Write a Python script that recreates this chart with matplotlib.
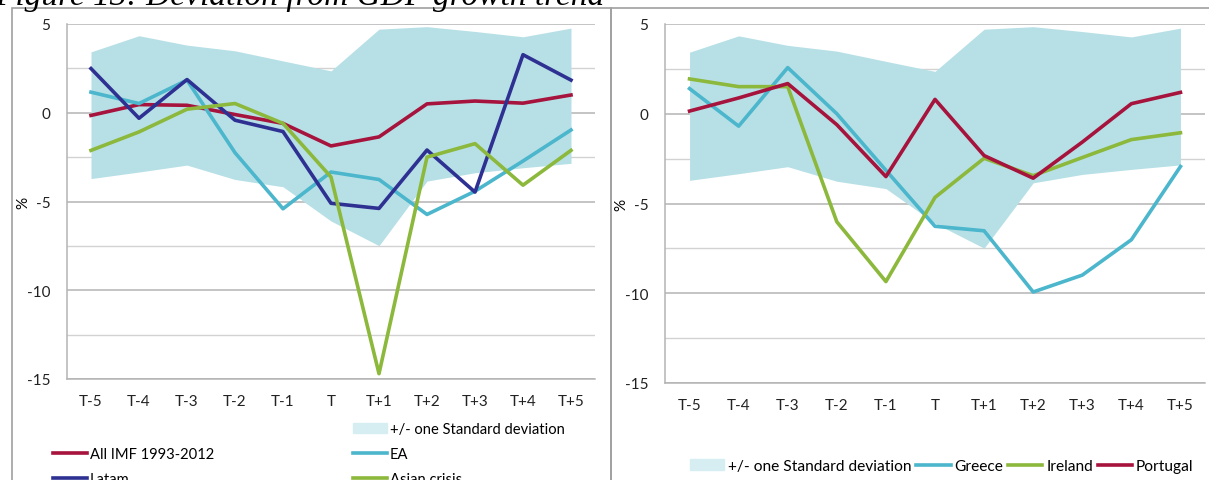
import matplotlib.pyplot as plt
from matplotlib.patches import Patch, Rectangle
from matplotlib.lines import Line2D

plt.rcParams['font.family'] = ['Lato', 'DejaVu Sans']
plt.rcParams['axes.unicode_minus'] = False

periods = ["T-5", "T-4", "T-3", "T-2", "T-1", "T", "T+1", "T+2", "T+3", "T+4", "T+5"]

# +/- one standard deviation band (same in both panels)
band_upper = [3.43, 4.34, 3.81, 3.49, 2.92, 2.36, 4.71, 4.85, 4.58, 4.28, 4.77]
band_lower = [-3.71, -3.34, -2.95, -3.76, -4.17, -6.1, -7.49, -3.85, -3.38, -3.1, -2.85]

# left panel
all_imf = [-0.15, 0.46, 0.42, -0.1, -0.6, -1.87, -1.36, 0.5, 0.66, 0.54, 1.0]
ea = [1.16, 0.52, 1.84, -2.25, -5.41, -3.34, -3.76, -5.73, -4.42, -2.72, -0.97]
latam = [2.49, -0.31, 1.87, -0.42, -1.06, -5.1, -5.39, -2.1, -4.47, 3.27, 1.84]
asian = [-2.12, -1.08, 0.2, 0.52, -0.6, -3.62, -14.7, -2.5, -1.74, -4.08, -2.12]

# right panel
greece = [1.4, -0.69, 2.57, 0.0, -3.15, -6.27, -6.52, -9.93, -8.99, -7.02, -2.94]
ireland = [1.94, 1.51, 1.51, -6.02, -9.35, -4.66, -2.48, -3.45, -2.44, -1.44, -1.06]
portugal = [0.15, 0.88, 1.68, -0.61, -3.5, 0.8, -2.33, -3.59, -1.58, 0.56, 1.19]

c_band = '#b7e0e6'
c_band_leg = '#d6eef2'
c_red = '#a6133d'
c_navy = '#2e3192'
c_teal = '#4bb6cc'
c_green = '#8cb83c'
c_grid = '#b4b4b4'
c_grid_minor = '#d2d2d2'
fs = 11

fig = plt.figure(figsize=(12.09, 4.81), dpi=100)

# panel frames
fig.patches.append(Rectangle((12 / 1209, -0.1), (611 - 12) / 1209, 1.1 - 9 / 481,
                             transform=fig.transFigure, fill=False, ec='#a0a0a0', lw=1.2))
fig.patches.append(Rectangle((611 / 1209, -0.1), 0.6, 1.1 - 9 / 481,
                             transform=fig.transFigure, fill=False, ec='#a0a0a0', lw=1.2))

fig.text(-0.004, 1 - 5 / 481, "Figure 13: Deviation from GDP growth trend",
         family='Liberation Serif', style='italic', fontsize=24, va='baseline', ha='left')

ax1 = fig.add_axes([67 / 1209, 1 - 380 / 481, 528 / 1209, 355 / 481])
ax2 = fig.add_axes([665 / 1209, 1 - 384 / 481, 540 / 1209, 359 / 481])

x = list(range(len(periods)))


def style(ax, label_x):
    ax.set_xlim(-0.5, 10.5)
    ax.set_ylim(-15, 5)
    ax.set_yticks([5, 0, -5, -10, -15])
    ax.set_yticks([2.5, -2.5, -7.5, -12.5], minor=True)
    ax.set_xticks(x)
    ax.set_xticklabels(periods)
    ax.grid(axis='y', which='major', color=c_grid, lw=1.1)
    ax.grid(axis='y', which='minor', color=c_grid_minor, lw=1.0)
    ax.set_axisbelow(True)
    for s in ['top', 'right']:
        ax.spines[s].set_visible(False)
    ax.spines['left'].set_color(c_grid)
    ax.spines['bottom'].set_color(c_grid)
    ax.spines['left'].set_linewidth(1.1)
    ax.spines['bottom'].set_linewidth(1.1)
    ax.tick_params(axis='both', which='both', length=0, labelsize=fs, colors='#222222')
    ax.tick_params(axis='x', pad=11)
    ax.tick_params(axis='y', pad=12)
    ax.set_ylabel('%', fontsize=fs)
    ax.yaxis.set_label_coords(label_x, 0.5)


for ax, lx in ((ax1, -0.070), (ax2, -0.067)):
    ax.fill_between(x, band_lower, band_upper, color=c_band, lw=0, zorder=1)
    style(ax, lx)

lw = 2.6
ax1.plot(x, all_imf, color=c_red, lw=lw, zorder=3)
ax1.plot(x, ea, color=c_teal, lw=lw, zorder=3)
ax1.plot(x, latam, color=c_navy, lw=lw, zorder=3)
ax1.plot(x, asian, color=c_green, lw=lw, zorder=3)

ax2.plot(x, greece, color=c_teal, lw=lw, zorder=3)
ax2.plot(x, ireland, color=c_green, lw=lw, zorder=3)
ax2.plot(x, portugal, color=c_red, lw=lw, zorder=3)

band_h = Patch(color=c_band_leg, label='+/- one Standard deviation')
blank = Patch(color='none', label=' ')
h_imf = Line2D([], [], color=c_red, lw=lw, label='All IMF 1993-2012')
h_latam = Line2D([], [], color=c_navy, lw=lw, label='Latam')
h_ea = Line2D([], [], color=c_teal, lw=lw, label='EA')
h_asian = Line2D([], [], color=c_green, lw=lw, label='Asian crisis')

ax1.legend(handles=[blank, h_imf, h_latam, band_h, h_ea, h_asian], ncol=2,
           loc='upper left', bbox_to_anchor=(-0.038, -0.105), frameon=False,
           fontsize=10.6, handlelength=2.3, handletextpad=0.2, columnspacing=9.45,
           labelspacing=0.74, borderaxespad=0)

h_greece = Line2D([], [], color=c_teal, lw=lw, label='Greece')
h_ireland = Line2D([], [], color=c_green, lw=lw, label='Ireland')
h_portugal = Line2D([], [], color=c_red, lw=lw, label='Portugal')
ax2.legend(handles=[band_h, h_greece, h_ireland, h_portugal], ncol=4,
           loc='upper left', bbox_to_anchor=(0.035, -0.195), frameon=False,
           fontsize=11.2, handlelength=2.2, handletextpad=0.25, columnspacing=0.3,
           borderaxespad=0)

fig.savefig('out.png', dpi=100)
plt.close()
